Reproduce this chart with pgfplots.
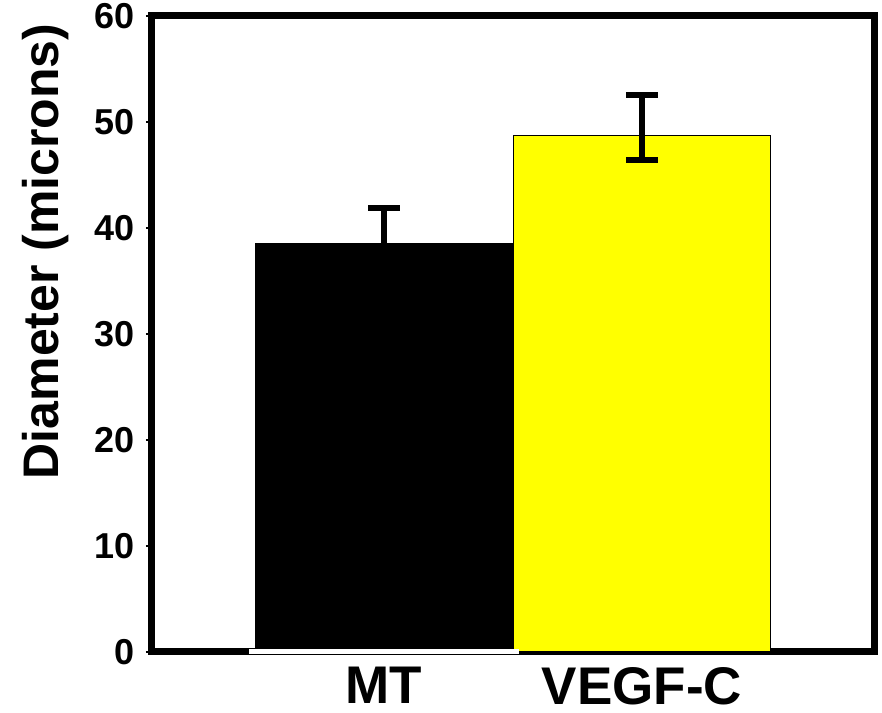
\documentclass[border=0pt]{standalone}
\usepackage{pgfplots}
\pgfplotsset{compat=1.18}
\usepackage{fontspec}
\setmainfont{Liberation Sans}
\definecolor{baryellow}{RGB}{255,255,0}
\begin{document}
\begin{tikzpicture}
\begin{axis}[
  name=ax,
  scale only axis, width=722pt, height=636pt,
  xmin=-0.9, xmax=1.9, ymin=0, ymax=60,
  ybar, bar width=1,
  xtick={0,1}, xticklabels={MT,VEGF-C},
  ytick={0,10,...,60},
  axis line style={line width=7pt, line join=miter},
  tick pos=left, tick align=outside,
  xtick style={draw=none},
  ytick style={line width=1.5pt, black},
  major tick length=6pt,
  /pgf/number format/assume math mode=true,
  yticklabel style={font=\fontsize{36}{40}\selectfont\bfseries, xshift=-8pt},
  xticklabel style={font=\fontsize{53}{56}\selectfont\bfseries, anchor=north, inner sep=0pt, yshift=-9pt},
  ylabel={Diameter (microns)},
  ylabel style={font=\fontsize{50}{54}\selectfont\bfseries, at={(axis description cs:-0.148,0.63)}, anchor=center, rotate=0},
]
\addplot[fill=black, draw=black, bar shift=0pt,
  error bars/.cd, y dir=plus, y explicit,
  error bar style={black, line width=6pt},
  error mark options={rotate=90, mark size=16pt, line width=6pt, black}]
  coordinates {(0,38.55) +- (0,3.35)};
\addplot[fill=baryellow, draw=black, line width=1pt, bar shift=0pt,
  error bars/.cd, y dir=both, y explicit,
  error bar style={black, line width=6pt},
  error mark options={rotate=90, mark size=16pt, line width=6pt, black}]
  coordinates {(1,48.7) += (0,3.8) -= (0,2.3)};
\coordinate (w1) at (axis cs:-0.523,0);
\coordinate (w2) at (axis cs:0.523,0);
\end{axis}
\fill[white] ([yshift=3pt]w1) rectangle ([yshift=-2.3pt]w2);
\pgfresetboundingbox
\path[use as bounding box] ([xshift=-152pt,yshift=-61pt]ax.south west) rectangle ([xshift=8pt,yshift=16pt]ax.north east);
\end{tikzpicture}
\end{document}
